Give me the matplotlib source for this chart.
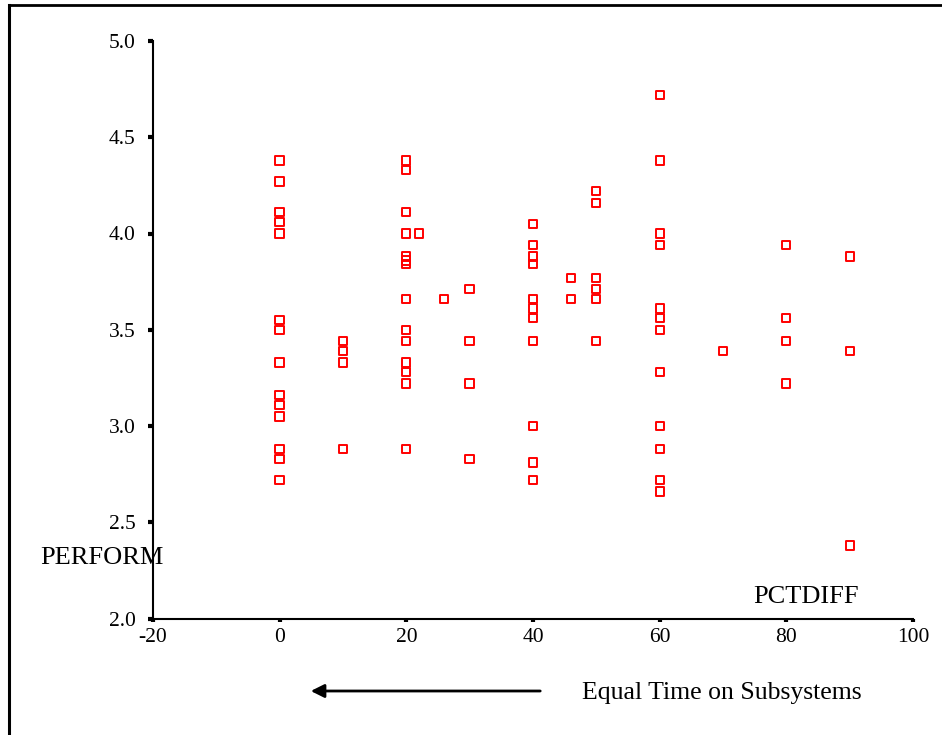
import matplotlib
matplotlib.use("Agg")
import matplotlib.pyplot as plt
from matplotlib.lines import Line2D

# PERFORM scores grouped by PCTDIFF value
pctdiff_levels = [0, 10, 20, 22, 26, 30, 40, 46, 50, 60, 70, 80, 90]
perform_at_0 = [4.38, 4.27, 4.11, 4.06, 4.00, 3.55, 3.50, 3.33, 3.16, 3.11,
                3.05, 2.88, 2.83, 2.72]
perform_at_10 = [3.44, 3.39, 3.33, 2.88]
perform_at_20 = [4.38, 4.33, 4.11, 4.00, 3.88, 3.86, 3.84, 3.66, 3.50, 3.44,
                 3.33, 3.28, 3.22, 2.88]
perform_at_22 = [4.00]
perform_at_26 = [3.66]
perform_at_30 = [3.71, 3.44, 3.22, 2.83]
perform_at_40 = [4.05, 3.94, 3.88, 3.84, 3.66, 3.61, 3.56, 3.44, 3.00, 2.81, 2.72]
perform_at_46 = [3.77, 3.66]
perform_at_50 = [4.22, 4.16, 3.77, 3.71, 3.66, 3.44]
perform_at_60 = [4.72, 4.38, 4.00, 3.94, 3.61, 3.56, 3.50, 3.28, 3.00, 2.88,
                 2.72, 2.66]
perform_at_70 = [3.39]
perform_at_80 = [3.94, 3.56, 3.44, 3.22]
perform_at_90 = [3.88, 3.39, 2.38]

perform_groups = [perform_at_0, perform_at_10, perform_at_20, perform_at_22,
                  perform_at_26, perform_at_30, perform_at_40, perform_at_46,
                  perform_at_50, perform_at_60, perform_at_70, perform_at_80,
                  perform_at_90]

x_ticks = [-20, 0, 20, 40, 60, 80, 100]
y_ticks = [2.0, 2.5, 3.0, 3.5, 4.0, 4.5, 5.0]

xs, ys = [], []
for level, vals in zip(pctdiff_levels, perform_groups):
    xs.extend([level] * len(vals))
    ys.extend(vals)

plt.rcParams["font.family"] = ["Liberation Serif", "DejaVu Serif"]

W, H = 942, 735
fig = plt.figure(figsize=(W / 100, H / 100), dpi=100)

left_px, right_px, top_px, bottom_px = 153, 913, 41, 618.5
ax = fig.add_axes([left_px / W, (H - bottom_px) / H,
                   (right_px - left_px) / W, (bottom_px - top_px) / H])

ax.scatter(xs, ys, marker="s", s=36, facecolors="none",
           edgecolors="#ff0000", linewidths=1.4, zorder=3, clip_on=False)

ax.set_xlim(-20, 100)
ax.set_ylim(2.0, 5.0)
ax.set_xticks(x_ticks)
ax.set_xticklabels([str(v) for v in x_ticks])
ax.set_yticks(y_ticks)
ax.set_yticklabels([f"{v:.1f}" for v in y_ticks])

for side in ("top", "right"):
    ax.spines[side].set_visible(False)
for side in ("left", "bottom"):
    ax.spines[side].set_linewidth(1.5)
    ax.spines[side].set_color("black")

ax.tick_params(axis="y", direction="out", length=3.5, width=3.0, pad=9,
               labelsize=15.5, colors="black")
ax.tick_params(axis="x", direction="out", length=2.5, width=3.0, pad=4,
               labelsize=15.5, colors="black")

# Axis titles placed inside the plotting frame
fig.text(40 / W, (H - 558) / H, "PERFORM", fontsize=19, ha="left", va="center")
fig.text(753 / W, (H - 597) / H, "PCTDIFF", fontsize=19, ha="left", va="center")
fig.text(582 / W, (H - 693) / H, "Equal Time on Subsystems", fontsize=18.5,
         ha="left", va="center")

# Arrow pointing toward equal time allocation
fig.add_artist(matplotlib.patches.FancyArrowPatch(
    (543 / W, (H - 691) / H), (308 / W, (H - 691) / H),
    transform=fig.transFigure, arrowstyle="-|>", mutation_scale=20,
    linewidth=2, color="black"))

# Outer frame (top and left edges)
fig.add_artist(Line2D([9 / W, 1.0], [1 - 4.5 / H, 1 - 4.5 / H],
                      transform=fig.transFigure, color="black", linewidth=2))
fig.add_artist(Line2D([9 / W, 9 / W], [0.0, 1 - 4.5 / H],
                      transform=fig.transFigure, color="black", linewidth=2.2))

fig.savefig("out.png", dpi=100, facecolor="white")
